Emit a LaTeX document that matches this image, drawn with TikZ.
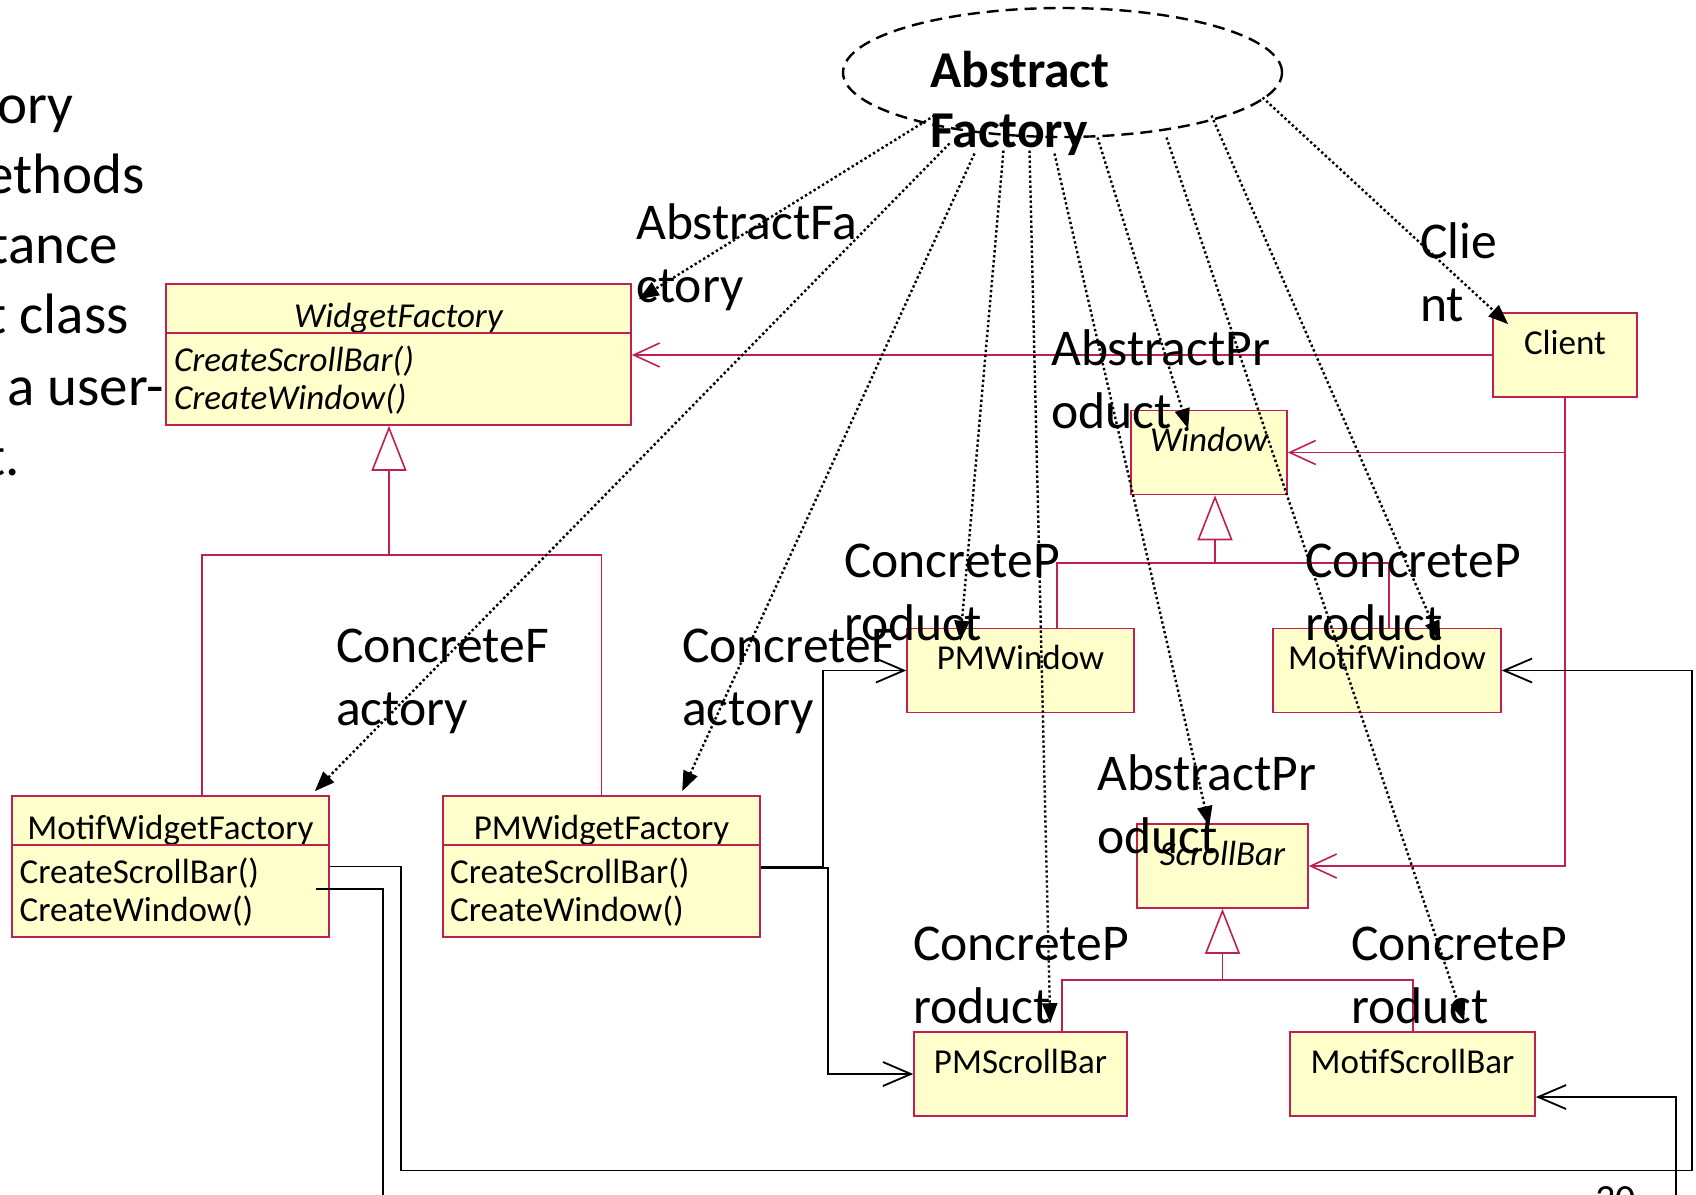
\documentclass[tikz,border=0pt]{standalone}
\usepackage{fontspec}
\setmainfont{Carlito}
\usepackage{tikz}
\usetikzlibrary{arrows.meta, positioning, calc, shapes.geometric}
\definecolor{umlred}{RGB}{192,32,80}
\definecolor{umlyellow}{RGB}{255,255,204}
\tikzset{
  cls/.style={rectangle, draw=umlred, fill=umlyellow, line width=1.6pt, inner sep=0pt,
    font=\fontsize{35}{38}\selectfont},
  prod/.style={cls, minimum height=84pt, text height=41pt, text depth=43pt},
  fac/.style={cls, minimum height=141pt, text height=43pt, text depth=98pt},
  split/.style={draw=umlred, line width=1.6pt},
  meth/.style={font=\fontsize{35}{38}\selectfont, align=left, anchor=base west, inner sep=0pt},
  role/.style={font=\fontsize{51.6}{63}\selectfont, align=left, anchor=base west, inner sep=0pt},
  slide/.style={font=\fontsize{57}{70}\selectfont, anchor=base east, inner sep=0pt},
  collab/.style={ellipse, draw, dash pattern=on 12pt off 7pt, line width=2.4pt,
    minimum width=439pt, minimum height=129pt, inner sep=0pt},
  dep/.style={-{Triangle[length=20pt,width=15pt]}, line width=2.4pt, dash pattern=on 2.4pt off 2.6pt},
  assoc/.style={-{Straight Barb[length=26pt,width=24pt]}, umlred, line width=1.6pt},
  gen/.style={-{Triangle[open,length=45pt,width=35pt]}, umlred, line width=1.6pt},
  genl/.style={umlred, line width=1.6pt},
  call/.style={-{Straight Barb[length=28pt,width=24pt]}, black, line width=1.8pt}
}
\begin{document}
\begin{tikzpicture}[x=1pt, y=-1pt]
  \clip (0,0) rectangle (1696,1194);
  \fill[white] (0,0) rectangle (1696,1194);
  \node[slide] at (74,123) {ory};
  \node[slide] at (145,193) {ethods};
  \node[slide] at (118,263) {tance};
  \node[slide] at (129,333) {t class};
  \node[slide] at (164,405) {a user-};
  \node[slide] at (20,475) {t.};

  \node[collab] (af) at (1062.5,72.5) {};

  \node[fac, minimum width=465pt, font=\fontsize{35}{38}\selectfont\itshape] (wf) at (398.5,354.5) {WidgetFactory};
  \node[fac, minimum width=317pt] (mwf) at (170.5,866.5) {MotifWidgetFactory};
  \node[fac, minimum width=317pt] (pwf) at (601.5,866.5) {PMWidgetFactory};
  \draw[split] ([yshift=-50pt]wf.north west) -- ([yshift=-50pt]wf.north east);
  \draw[split] ([yshift=-50pt]mwf.north west) -- ([yshift=-50pt]mwf.north east);
  \draw[split] ([yshift=-50pt]pwf.north west) -- ([yshift=-50pt]pwf.north east);
  \node[meth, font=\fontsize{35}{38}\selectfont\itshape] at (174,409) {CreateScrollBar()\\CreateWindow()};
  \node[meth] at (19.5,921) {CreateScrollBar()\\CreateWindow()};
  \node[meth] at (450,921) {CreateScrollBar()\\CreateWindow()};

  \node[prod, minimum width=144pt] (cl) at (1565,355) {Client};
  \node[prod, minimum width=156pt, font=\fontsize{35}{38}\selectfont\itshape] (win) at (1209,452.5) {Window};
  \node[prod, minimum width=227pt] (pmw) at (1020.5,670.5) {PMWindow};
  \node[prod, minimum width=228pt] (mw) at (1387,670.5) {MotifWindow};
  \node[prod, minimum width=171pt, font=\fontsize{35}{38}\selectfont\itshape] (sb) at (1222.5,866) {ScrollBar};
  \node[prod, minimum width=213pt] (pms) at (1020.5,1074) {PMScrollBar};
  \node[prod, minimum width=245pt] (ms) at (1412.5,1074) {MotifScrollBar};

  \draw[assoc] (cl.west) -- (cl.west -| wf.east);
  \draw[assoc] (cl.south) |- (win.east);
  \draw[assoc] (cl.south) |- (sb.east);

  \coordinate (wfj) at (389,555);
  \draw[genl] ($(mwf.north west)+(191,0)$) |- (wfj) -| (pwf.north);
  \draw[gen] (wfj) -- (wfj |- wf.south);
  \coordinate (winj) at (1215,563);
  \draw[genl] ($(pmw.north west)+(151,0)$) |- (winj) -| ($(mw.north west)+(117,0)$);
  \draw[gen] (winj) -- (winj |- win.south);
  \coordinate (sbj) at (1222.5,980);
  \draw[genl] ($(pms.north west)+(149,0)$) |- (sbj) -| ($(ms.north west)+(124,0)$);
  \draw[gen] (sbj) -- (sb.south);

  \draw[call] (mwf.east) -| ++(71,304) -| ($(mw.east)+(190,0)$) -- (mw.east);
  \draw[call] ($(mwf.east)+(-14,22.5)$) -| ++(67,340) -| ($(ms.east)+(140,23)$) -- ($(ms.east)+(0,23)$);
  \draw[call] (pwf.east) -| ($(pmw.west)+(-83,0)$) -- (pmw.west);
  \draw[call] ([yshift=-1.5pt]pwf.east) -| ($(pms.west)+(-85,0)$) -- (pms.west);

  \draw[dep] ($(af.center)+(-128,43)$) -- ($(wf.north east)+(7,16)$);
  \draw[dep] ($(af.center)+(-113,71)$) -- ($(mwf.north east)+(-15,-4)$);
  \draw[dep] ($(af.center)+(-88,81)$) -- ($(pwf.north west)+(240,-4)$);
  \draw[dep] ($(af.center)+(-59,78)$) -- ($(pmw.north west)+(54,13)$);
  \draw[dep] ($(af.center)+(-33,78)$) -- ($(pms.north west)+(137,-8)$);
  \draw[dep] ($(af.center)+(-8,81)$) -- ($(sb.north west)+(73,3)$);
  \draw[dep] ($(af.center)+(35,65)$) -- ($(win.north west)+(58,19)$);
  \draw[dep] ($(af.center)+(104,65)$) -- ($(ms.north west)+(175,-10)$);
  \draw[dep] ($(af.center)+(149,43)$) -- ($(mw.north west)+(168,13)$);
  \draw[dep] ($(af.center)+(200,25)$) -- ($(cl.north west)+(16,12)$);

  \node[role] at (636,302) {AbstractFa\\ctory};
  \node[role] at (1420,321) {Clie\\nt};
  \node[role] at (1051,428) {AbstractPr\\oduct};
  \node[role] at (336,725) {ConcreteF\\actory};
  \node[role] at (682,725) {ConcreteF\\actory};
  \node[role] at (844,640) {ConcreteP\\roduct};
  \node[role] at (1305,640) {ConcreteP\\roduct};
  \node[role] at (1097,853) {AbstractPr\\oduct};
  \node[role] at (913,1023) {ConcreteP\\roduct};
  \node[role] at (1351,1023) {ConcreteP\\roduct};
  \node[role, font=\fontsize{51.7}{60}\selectfont\bfseries] at (930,147) {Abstract\\Factory};
  \node[font=\fontsize{40}{48}\selectfont, anchor=base west, inner sep=0pt] (pg) at (1595,1212) {30};
\end{tikzpicture}
\end{document}
